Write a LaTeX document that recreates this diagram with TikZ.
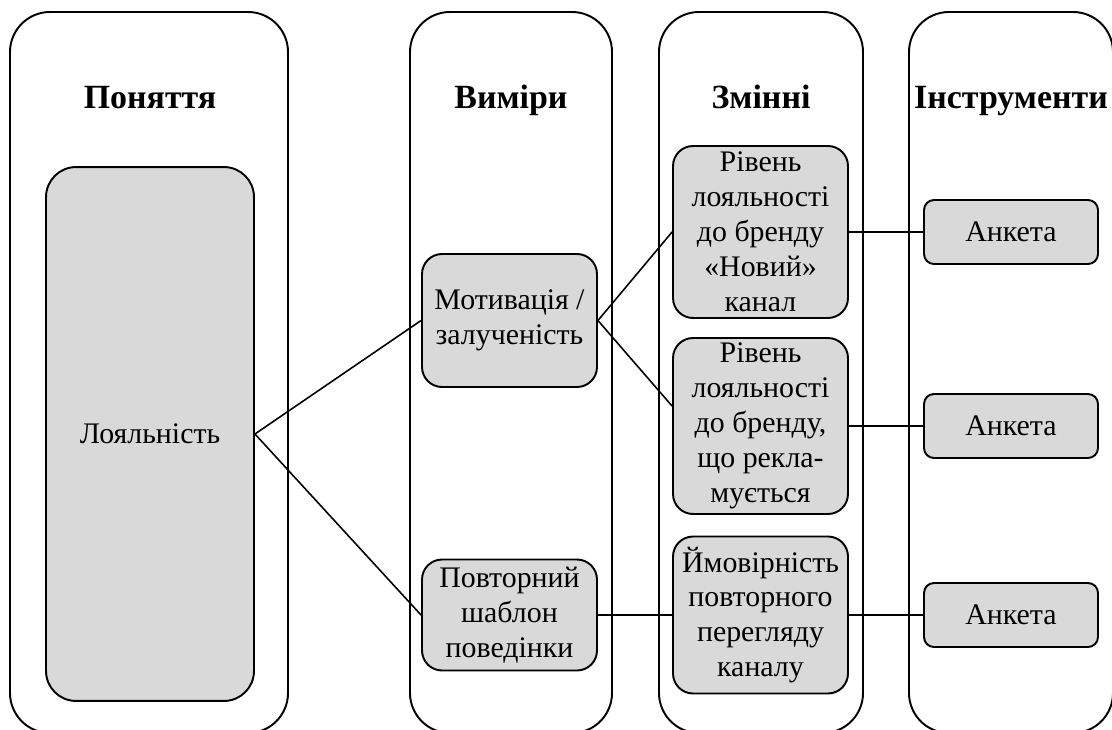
\documentclass[tikz,border=0pt]{standalone}
\usepackage{fontspec}
\setmainfont{Liberation Serif}
\usepackage{tikz}
\usetikzlibrary{positioning}

\tikzset{
  column/.style={draw, line width=1.1pt, rounded corners=0.8cm},
  header/.style={font=\fontsize{19.3}{22}\selectfont\bfseries, anchor=base},
  item/.style={draw, fill=gray!30, line width=1.1pt, rounded corners=0.4cm,
    align=center, inner sep=0pt, minimum width=3.5cm,
    font=\fontsize{17}{19.9}\selectfont},
  tool/.style={item, rounded corners=0.2cm, minimum width=3.48cm, minimum height=1.28cm},
  link/.style={line width=0.9pt}
}

\begin{document}
\begin{tikzpicture}[x=0.02cm, y=-0.02cm]
  \useasboundingbox (0,0) rectangle (1112,730);
  \clip (0,0) rectangle (1112,730);
  % columns
  \draw[column] (10,12) rectangle (288,733);
  \draw[column] (410,12) rectangle (612,733);
  \draw[column] (659,12) rectangle (863,733);
  \draw[column] (909,12) rectangle (1113,733);
  % headers
  \node[header] (hconcept) at (150,108) {Поняття};
  \node[header] (hdims)    at (511,108) {Виміри};
  \node[header] (hvars)    at (761,108) {Змінні};
  \node[header] (htools)   at (1011,108) {Інструменти};
  % concept and dimensions
  \node[item, minimum width=4.16cm, minimum height=10.68cm, rounded corners=0.6cm]
    (loyal) at (150,434) {Лояльність};
  \node[item, minimum height=2.66cm] (motiv) at (509.5,320.5) {Мотивація /\\ залученість};
  \node[item, minimum height=2.22cm] (habit) at (509.5,615) {Повторний\\ шаблон\\ поведінки};
  % variables
  \node[item, minimum height=3.44cm] (level1) at (760.5,232)
    {Рівень\\ лояльності\\ до бренду\\ «Новий»\\ канал};
  \node[item, minimum height=3.52cm] (level2) at (760.5,426)
    {Рівень\\ лояльності\\ до бренду,\\ що рекла-\\ мується};
  \node[item, minimum height=3.14cm] (revisit) at (760.5,615)
    {Ймовірність\\ повторного\\ перегляду\\ каналу};
  % tools
  \node[tool] (form1) at (1011,232) {Анкета};
  \node[tool] (form2) at (1011,426) {Анкета};
  \node[tool] (form3) at (1011,615) {Анкета};
  % links
  \draw[link] (loyal.east) -- (motiv.west);
  \draw[link] (loyal.east) -- (habit.west);
  \draw[link] (motiv.east) -- (level1.west);
  \draw[link] (motiv.east) -- ([yshift=0.4cm]level2.west);
  \draw[link] (habit.east) -- (revisit.west);
  \draw[link] (level1.east) -- (form1.west);
  \draw[link] (level2.east) -- (form2.west);
  \draw[link] (revisit.east) -- (form3.west);
\end{tikzpicture}
\end{document}
